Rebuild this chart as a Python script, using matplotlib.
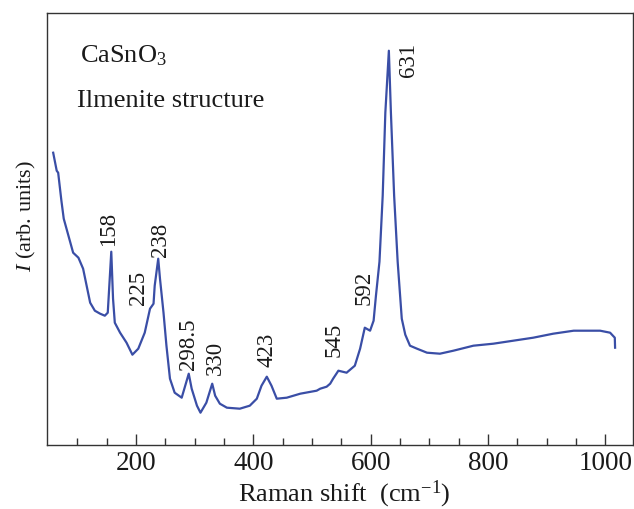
import matplotlib
matplotlib.use("Agg")
import matplotlib.pyplot as plt

plt.rcParams['font.family'] = ['Liberation Serif', 'DejaVu Serif']
plt.rcParams['mathtext.fontset'] = 'custom'
plt.rcParams['mathtext.rm'] = 'Liberation Serif'
plt.rcParams['mathtext.it'] = 'Liberation Serif:italic'

# Raman spectrum (intensity in arbitrary units)
shift = [59, 65, 67.5, 73, 77, 85, 93, 102, 110, 116, 122, 130, 139, 147, 152,
         158, 161, 164, 173, 184, 194, 204, 215, 224, 230, 232, 238, 241, 247,
         252, 258, 266, 278, 284, 290, 295, 304, 310, 320, 330, 335, 343, 355,
         377, 394, 406, 414, 423, 431, 440, 457, 480, 508, 514, 525, 531, 536,
         545, 559, 573, 582, 590, 599, 605, 609, 615, 620.5, 625, 631, 634.5,
         640, 646, 653, 659, 667, 679, 696, 718, 741, 775, 809, 843, 877, 911,
         946, 968, 991, 1008, 1016, 1016.5]
intensity = [292, 274, 272, 244, 226, 209, 192, 187, 176, 159, 142, 134, 131,
             129, 132, 193, 146, 122, 112, 102, 90, 96, 112, 136, 141, 159,
             186, 166, 132, 99, 66, 52, 47, 59, 71, 56, 39, 32, 42, 61, 49, 41,
             37, 36, 39, 46, 59, 68, 59, 46, 47, 51, 54, 56, 58, 61, 66, 74,
             72, 79, 96, 117, 114, 124, 149, 183, 249, 332, 394, 332, 249, 183,
             126, 110, 99, 96, 92, 91, 94, 99, 101, 104, 107, 111, 114, 114,
             114, 112, 107, 97]

peak_labels = ['158', '225', '238', '298.5', '330', '423', '545', '592', '631']
# label anchor (x in cm^-1, bottom of text in intensity units)
label_pos = [(153, 200), (204, 141), (242, 189), (290, 76), (336, 71),
             (423, 79), (538, 89), (588, 141), (664, 369)]

xticks = [200, 400, 600, 800, 1000]

fig = plt.figure(figsize=(6.34, 5.10), dpi=100)
ax = fig.add_axes([0.0737, 0.1261, 0.9247, 0.8464])
ax.plot(shift, intensity, color='#3a4ea6', lw=1.6)

for lab, (px, py) in zip(peak_labels, label_pos):
    ax.text(px, py, lab, rotation=90, ha='center', va='bottom',
            fontsize=16.5, color='#1a1a1a')

ax.text(104.5, 390, r'CaSnO$_3$', fontsize=19, color='#1a1a1a', va='center')
ax.text(99.5, 345, 'Ilmenite structure', fontsize=19, color='#1a1a1a', va='center')

ax.set_xlim(48, 1047)
ax.set_ylim(0, 431.7)
ax.set_xticks(xticks)
ax.set_xticks(range(100, 1001, 50), minor=True)
ax.set_yticks([])
ax.tick_params(axis='x', which='major', direction='in', length=7.6, width=1,
               labelsize=19.5, pad=4, colors='#333333', labelcolor='#1a1a1a')
ax.tick_params(axis='x', which='minor', direction='in', length=4.7, width=1,
               colors='#333333')
for s in ax.spines.values():
    s.set_color('#333333')
    s.set_linewidth(1.0)

fig.text(344 / 634, 1 - 494 / 510, r'Raman shift  (cm$^{-1}$)', fontsize=19,
         ha='center', va='center', color='#1a1a1a')
fig.text(26 / 634, 1 - 216 / 510, r'$I$ (arb. units)', fontsize=16,
         rotation=90, ha='center', va='center', color='#1a1a1a')

fig.savefig('out.png', dpi=100)
